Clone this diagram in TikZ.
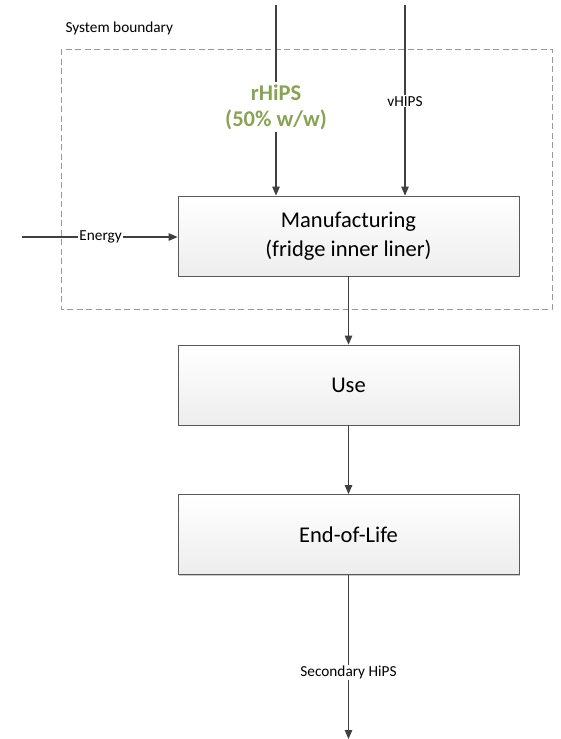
\documentclass[tikz,border=0pt]{standalone}
\usepackage{fontspec}
\setmainfont{Carlito}
\usetikzlibrary{arrows.meta,shadows}
\definecolor{linegray}{RGB}{64,64,64}
\definecolor{boxedge}{RGB}{90,90,90}
\definecolor{rgreen}{RGB}{137,163,82}
\tikzset{
  procbox/.style={draw=boxedge, line width=0.8pt, top color=white, bottom color=black!7,
    minimum width=341pt, minimum height=80pt, align=center, font=\fontsize{22.5}{29.5}\selectfont,
    drop shadow={shadow xshift=1.2pt, shadow yshift=-1.2pt, opacity=0.35, fill=black!60}},
  flow/.style={draw=linegray, line width=1.1pt, -{Triangle[length=9pt,width=7.5pt]}},
  small/.style={font=\fontsize{15.3}{18}\selectfont, fill=white, inner sep=1pt},
}
\begin{document}
\begin{tikzpicture}[x=1pt,y=-1pt]
\useasboundingbox (0,0) rectangle (561,739);
% system boundary
\draw[gray!80, dash pattern=on 6pt off 3.5pt, line width=0.8pt] (61,49) rectangle (552,309);
\node[anchor=west, font=\fontsize{15.3}{18}\selectfont] (sb) at (62,28) {System boundary};
% process boxes
\node[procbox] (mfg) at (348.5,236) {Manufacturing\\(fridge inner liner)};
\node[procbox] (use) at (348.5,385) {Use};
\node[procbox] (eol) at (348.5,534.5) {End-of-Life};
% inputs
\coordinate (rin) at (276,5);
\coordinate (vin) at (405,5);
\coordinate (ein) at (22,237);
\coordinate (sout) at (348.5,739);
\draw[flow] (rin) -- (rin |- mfg.north)
  node[pos=0.535, fill=white, inner sep=2pt, align=center, text=rgreen,
       font=\bfseries\fontsize{22.5}{26}\selectfont] (rl) {rHiPS\\(50\% w/w)};
\draw[flow] (vin) -- (vin |- mfg.north) node[pos=0.505, small] (vl) {vHIPS};
\draw[flow] (ein) -- (ein -| mfg.west) node[pos=0.505, small] (el) {Energy};
% chain
\draw[flow] (mfg) -- (use);
\draw[flow] (use) -- (eol);
\draw[flow] (eol) -- (sout) node[pos=0.595, small] (so) {Secondary HiPS};
\end{tikzpicture}
\end{document}
